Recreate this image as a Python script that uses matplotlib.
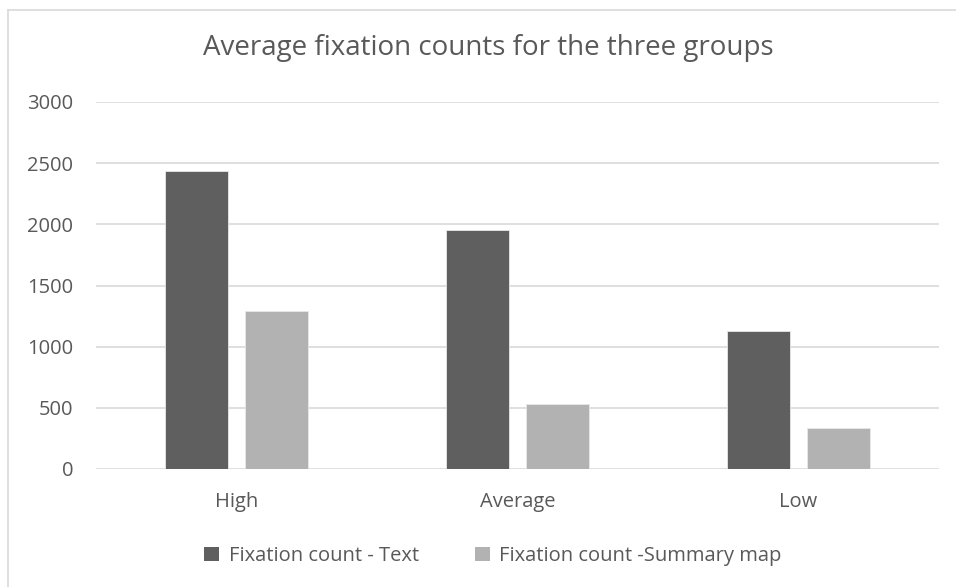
import matplotlib
matplotlib.use("Agg")
import matplotlib.pyplot as plt
import numpy as np
from matplotlib.patches import Patch
from matplotlib.lines import Line2D

plt.rcParams['font.family'] = ['Open Sans', 'DejaVu Sans']

categories = ["High", "Average", "Low"]
series_names = ["Fixation count - Text", "Fixation count -Summary map"]
text_counts = [2433, 1956, 1129]
summary_counts = [1295, 532, 335]
y_ticks = [0, 500, 1000, 1500, 2000, 2500, 3000]

dark = "#5f5f5f"
light = "#b2b2b2"
grid_c = "#d9d9d9"
label_c = "#595959"

W, H = 956, 587
fig = plt.figure(figsize=(W / 100, H / 100), dpi=100)
ax = fig.add_axes([96 / W, (H - 469) / H, (939 - 96) / W, (469 - 102) / H])

x = np.arange(len(categories))
bw = 0.225
off = 0.1425
ax.bar(x - off, text_counts, bw, color=dark, edgecolor="#e8e8e8", linewidth=0.6, zorder=3)
ax.bar(x + off, summary_counts, bw, color=light, edgecolor="#e8e8e8", linewidth=0.6, zorder=3)

ax.set_xlim(-0.5, 2.5)
ax.set_ylim(0, 3000)
ax.set_yticks(y_ticks)
ax.set_yticklabels([str(v) for v in y_ticks])
ax.set_xticks(x)
ax.set_xticklabels(categories)
ax.grid(axis="y", color=grid_c, linewidth=1.2, zorder=0)
ax.set_axisbelow(True)
for s in ax.spines.values():
    s.set_visible(False)
ax.tick_params(axis="both", length=0, labelsize=14.5, colors=label_c)
ax.tick_params(axis="y", pad=16.5)
ax.tick_params(axis="x", pad=16.5)

fig.text(488 / W, 1 - 48 / H, "Average fixation counts for the three groups",
         ha="center", va="center", fontsize=20, color=label_c)

handles = [Patch(facecolor=dark, edgecolor="none"), Patch(facecolor=light, edgecolor="none")]
fig.legend(handles, series_names, loc="center", bbox_to_anchor=(493 / W, 1 - 556 / H),
           ncol=2, frameon=False, fontsize=14.5, labelcolor=label_c,
           handlelength=0.75, handleheight=0.75, handletextpad=0.45, columnspacing=2.8)

# chart frame (top and left edges)
fig.add_artist(Line2D([8 / W, 1], [1 - 10 / H, 1 - 10 / H], color=grid_c, linewidth=1.2))
fig.add_artist(Line2D([8 / W, 8 / W], [0, 1 - 10 / H], color=grid_c, linewidth=1.2))

fig.savefig("out.png", dpi=100)
